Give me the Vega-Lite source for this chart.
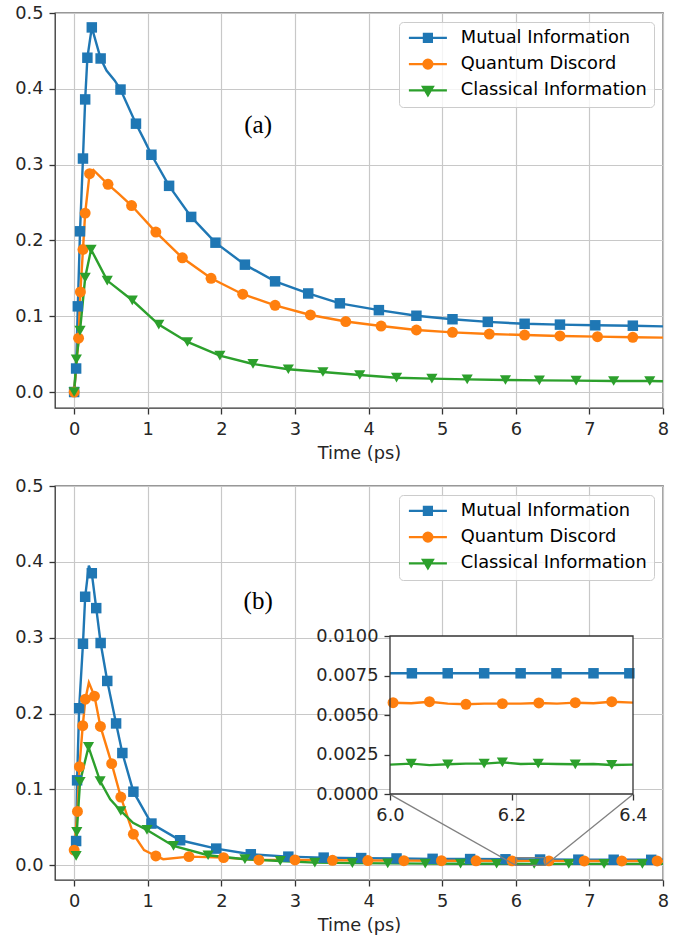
{
  "$schema": "https://vega.github.io/schema/vega-lite/v6.json",
  "background": "white",
  "padding": {"left": 14, "top": 3, "right": 5, "bottom": 5},
  "spacing": 12,
  "datasets": {
    "a": [
      {"s": "Mutual Information", "t": 0, "v": 0, "m": 1},
      {"s": "Mutual Information", "t": 0.027, "v": 0.031, "m": 1},
      {"s": "Mutual Information", "t": 0.05, "v": 0.113, "m": 1},
      {"s": "Mutual Information", "t": 0.08, "v": 0.212, "m": 1},
      {"s": "Mutual Information", "t": 0.12, "v": 0.308, "m": 1},
      {"s": "Mutual Information", "t": 0.15, "v": 0.386, "m": 1},
      {"s": "Mutual Information", "t": 0.18, "v": 0.441, "m": 1},
      {"s": "Mutual Information", "t": 0.24, "v": 0.481, "m": 1},
      {"s": "Mutual Information", "t": 0.36, "v": 0.44, "m": 1},
      {"s": "Mutual Information", "t": 0.44, "v": 0.424, "m": 0},
      {"s": "Mutual Information", "t": 0.55, "v": 0.411, "m": 0},
      {"s": "Mutual Information", "t": 0.63, "v": 0.399, "m": 1},
      {"s": "Mutual Information", "t": 0.84, "v": 0.354, "m": 1},
      {"s": "Mutual Information", "t": 0.95, "v": 0.333, "m": 0},
      {"s": "Mutual Information", "t": 1.05, "v": 0.313, "m": 1},
      {"s": "Mutual Information", "t": 1.29, "v": 0.272, "m": 1},
      {"s": "Mutual Information", "t": 1.59, "v": 0.231, "m": 1},
      {"s": "Mutual Information", "t": 1.92, "v": 0.197, "m": 1},
      {"s": "Mutual Information", "t": 2.32, "v": 0.168, "m": 1},
      {"s": "Mutual Information", "t": 2.73, "v": 0.146, "m": 1},
      {"s": "Mutual Information", "t": 3.18, "v": 0.13, "m": 1},
      {"s": "Mutual Information", "t": 3.61, "v": 0.117, "m": 1},
      {"s": "Mutual Information", "t": 4.14, "v": 0.108, "m": 1},
      {"s": "Mutual Information", "t": 4.65, "v": 0.1006, "m": 1},
      {"s": "Mutual Information", "t": 5.14, "v": 0.096, "m": 1},
      {"s": "Mutual Information", "t": 5.62, "v": 0.0925, "m": 1},
      {"s": "Mutual Information", "t": 6.12, "v": 0.09, "m": 1},
      {"s": "Mutual Information", "t": 6.6, "v": 0.0889, "m": 1},
      {"s": "Mutual Information", "t": 7.08, "v": 0.088, "m": 1},
      {"s": "Mutual Information", "t": 7.59, "v": 0.0875, "m": 1},
      {"s": "Mutual Information", "t": 8.0, "v": 0.0866, "m": 0},
      {"s": "Quantum Discord", "t": 0, "v": 0, "m": 1},
      {"s": "Quantum Discord", "t": 0.06, "v": 0.071, "m": 1},
      {"s": "Quantum Discord", "t": 0.085, "v": 0.132, "m": 1},
      {"s": "Quantum Discord", "t": 0.12, "v": 0.188, "m": 1},
      {"s": "Quantum Discord", "t": 0.15, "v": 0.236, "m": 1},
      {"s": "Quantum Discord", "t": 0.21, "v": 0.288, "m": 1},
      {"s": "Quantum Discord", "t": 0.26, "v": 0.293, "m": 0},
      {"s": "Quantum Discord", "t": 0.46, "v": 0.274, "m": 1},
      {"s": "Quantum Discord", "t": 0.6, "v": 0.262, "m": 0},
      {"s": "Quantum Discord", "t": 0.78, "v": 0.246, "m": 1},
      {"s": "Quantum Discord", "t": 1.11, "v": 0.211, "m": 1},
      {"s": "Quantum Discord", "t": 1.47, "v": 0.177, "m": 1},
      {"s": "Quantum Discord", "t": 1.86, "v": 0.15, "m": 1},
      {"s": "Quantum Discord", "t": 2.29, "v": 0.129, "m": 1},
      {"s": "Quantum Discord", "t": 2.73, "v": 0.1144, "m": 1},
      {"s": "Quantum Discord", "t": 3.21, "v": 0.1016, "m": 1},
      {"s": "Quantum Discord", "t": 3.69, "v": 0.093, "m": 1},
      {"s": "Quantum Discord", "t": 4.17, "v": 0.087, "m": 1},
      {"s": "Quantum Discord", "t": 4.65, "v": 0.0818, "m": 1},
      {"s": "Quantum Discord", "t": 5.14, "v": 0.0787, "m": 1},
      {"s": "Quantum Discord", "t": 5.64, "v": 0.0765, "m": 1},
      {"s": "Quantum Discord", "t": 6.12, "v": 0.0752, "m": 1},
      {"s": "Quantum Discord", "t": 6.6, "v": 0.0739, "m": 1},
      {"s": "Quantum Discord", "t": 7.11, "v": 0.073, "m": 1},
      {"s": "Quantum Discord", "t": 7.59, "v": 0.0722, "m": 1},
      {"s": "Quantum Discord", "t": 8.0, "v": 0.0717, "m": 0},
      {"s": "Classical Information", "t": 0, "v": 0, "m": 1},
      {"s": "Classical Information", "t": 0.03, "v": 0.043, "m": 1},
      {"s": "Classical Information", "t": 0.08, "v": 0.081, "m": 1},
      {"s": "Classical Information", "t": 0.15, "v": 0.151, "m": 1},
      {"s": "Classical Information", "t": 0.23, "v": 0.188, "m": 1},
      {"s": "Classical Information", "t": 0.3, "v": 0.175, "m": 0},
      {"s": "Classical Information", "t": 0.45, "v": 0.147, "m": 1},
      {"s": "Classical Information", "t": 0.79, "v": 0.121, "m": 1},
      {"s": "Classical Information", "t": 1.15, "v": 0.089, "m": 1},
      {"s": "Classical Information", "t": 1.54, "v": 0.066, "m": 1},
      {"s": "Classical Information", "t": 1.98, "v": 0.048, "m": 1},
      {"s": "Classical Information", "t": 2.43, "v": 0.037, "m": 1},
      {"s": "Classical Information", "t": 2.91, "v": 0.03, "m": 1},
      {"s": "Classical Information", "t": 3.38, "v": 0.0264, "m": 1},
      {"s": "Classical Information", "t": 3.88, "v": 0.0224, "m": 1},
      {"s": "Classical Information", "t": 4.38, "v": 0.0189, "m": 1},
      {"s": "Classical Information", "t": 4.86, "v": 0.0176, "m": 1},
      {"s": "Classical Information", "t": 5.34, "v": 0.0167, "m": 1},
      {"s": "Classical Information", "t": 5.86, "v": 0.0158, "m": 1},
      {"s": "Classical Information", "t": 6.32, "v": 0.0154, "m": 1},
      {"s": "Classical Information", "t": 6.82, "v": 0.015, "m": 1},
      {"s": "Classical Information", "t": 7.33, "v": 0.0145, "m": 1},
      {"s": "Classical Information", "t": 7.82, "v": 0.0145, "m": 1},
      {"s": "Classical Information", "t": 8.0, "v": 0.0141, "m": 0}
    ],
    "b": [
      {"s": "Mutual Information", "t": 0.027, "v": 0.032, "m": 1},
      {"s": "Mutual Information", "t": 0.04, "v": 0.112, "m": 1},
      {"s": "Mutual Information", "t": 0.068, "v": 0.207, "m": 1},
      {"s": "Mutual Information", "t": 0.12, "v": 0.292, "m": 1},
      {"s": "Mutual Information", "t": 0.15, "v": 0.354, "m": 1},
      {"s": "Mutual Information", "t": 0.2, "v": 0.395, "m": 0},
      {"s": "Mutual Information", "t": 0.24, "v": 0.385, "m": 1},
      {"s": "Mutual Information", "t": 0.3, "v": 0.339, "m": 1},
      {"s": "Mutual Information", "t": 0.36, "v": 0.293, "m": 1},
      {"s": "Mutual Information", "t": 0.45, "v": 0.243, "m": 1},
      {"s": "Mutual Information", "t": 0.57, "v": 0.187, "m": 1},
      {"s": "Mutual Information", "t": 0.655, "v": 0.148, "m": 1},
      {"s": "Mutual Information", "t": 0.805, "v": 0.097, "m": 1},
      {"s": "Mutual Information", "t": 1.05, "v": 0.055, "m": 1},
      {"s": "Mutual Information", "t": 1.44, "v": 0.033, "m": 1},
      {"s": "Mutual Information", "t": 1.93, "v": 0.022, "m": 1},
      {"s": "Mutual Information", "t": 2.4, "v": 0.0145, "m": 1},
      {"s": "Mutual Information", "t": 2.91, "v": 0.0114, "m": 1},
      {"s": "Mutual Information", "t": 3.39, "v": 0.0101, "m": 1},
      {"s": "Mutual Information", "t": 3.9, "v": 0.0095, "m": 1},
      {"s": "Mutual Information", "t": 4.38, "v": 0.009, "m": 1},
      {"s": "Mutual Information", "t": 4.87, "v": 0.0085, "m": 1},
      {"s": "Mutual Information", "t": 5.38, "v": 0.0082, "m": 1},
      {"s": "Mutual Information", "t": 5.86, "v": 0.0079, "m": 1},
      {"s": "Mutual Information", "t": 6.33, "v": 0.0076, "m": 1},
      {"s": "Mutual Information", "t": 6.85, "v": 0.0074, "m": 1},
      {"s": "Mutual Information", "t": 7.33, "v": 0.0073, "m": 1},
      {"s": "Mutual Information", "t": 7.84, "v": 0.0072, "m": 1},
      {"s": "Mutual Information", "t": 8.0, "v": 0.0072, "m": 0},
      {"s": "Quantum Discord", "t": 0, "v": 0.02, "m": 1},
      {"s": "Quantum Discord", "t": 0.045, "v": 0.071, "m": 1},
      {"s": "Quantum Discord", "t": 0.072, "v": 0.13, "m": 1},
      {"s": "Quantum Discord", "t": 0.117, "v": 0.184, "m": 1},
      {"s": "Quantum Discord", "t": 0.153, "v": 0.219, "m": 1},
      {"s": "Quantum Discord", "t": 0.2, "v": 0.241, "m": 0},
      {"s": "Quantum Discord", "t": 0.276, "v": 0.223, "m": 1},
      {"s": "Quantum Discord", "t": 0.357, "v": 0.183, "m": 1},
      {"s": "Quantum Discord", "t": 0.51, "v": 0.134, "m": 1},
      {"s": "Quantum Discord", "t": 0.634, "v": 0.09, "m": 1},
      {"s": "Quantum Discord", "t": 0.805, "v": 0.041, "m": 1},
      {"s": "Quantum Discord", "t": 0.95, "v": 0.02, "m": 0},
      {"s": "Quantum Discord", "t": 1.11, "v": 0.0123, "m": 1},
      {"s": "Quantum Discord", "t": 1.21, "v": 0.008, "m": 0},
      {"s": "Quantum Discord", "t": 1.56, "v": 0.0114, "m": 1},
      {"s": "Quantum Discord", "t": 2.03, "v": 0.0101, "m": 1},
      {"s": "Quantum Discord", "t": 2.51, "v": 0.007, "m": 1},
      {"s": "Quantum Discord", "t": 3.0, "v": 0.007, "m": 1},
      {"s": "Quantum Discord", "t": 3.51, "v": 0.0066, "m": 1},
      {"s": "Quantum Discord", "t": 3.99, "v": 0.0063, "m": 1},
      {"s": "Quantum Discord", "t": 4.48, "v": 0.0061, "m": 1},
      {"s": "Quantum Discord", "t": 4.99, "v": 0.006, "m": 1},
      {"s": "Quantum Discord", "t": 5.46, "v": 0.0059, "m": 1},
      {"s": "Quantum Discord", "t": 5.95, "v": 0.0058, "m": 1},
      {"s": "Quantum Discord", "t": 6.45, "v": 0.0058, "m": 1},
      {"s": "Quantum Discord", "t": 6.93, "v": 0.0057, "m": 1},
      {"s": "Quantum Discord", "t": 7.44, "v": 0.0057, "m": 1},
      {"s": "Quantum Discord", "t": 7.92, "v": 0.0057, "m": 1},
      {"s": "Quantum Discord", "t": 8.0, "v": 0.0057, "m": 0},
      {"s": "Classical Information", "t": 0.027, "v": 0.0123, "m": 1},
      {"s": "Classical Information", "t": 0.036, "v": 0.044, "m": 1},
      {"s": "Classical Information", "t": 0.08, "v": 0.11, "m": 1},
      {"s": "Classical Information", "t": 0.195, "v": 0.156, "m": 1},
      {"s": "Classical Information", "t": 0.353, "v": 0.111, "m": 1},
      {"s": "Classical Information", "t": 0.49, "v": 0.087, "m": 0},
      {"s": "Classical Information", "t": 0.634, "v": 0.0716, "m": 1},
      {"s": "Classical Information", "t": 0.8, "v": 0.056, "m": 0},
      {"s": "Classical Information", "t": 0.99, "v": 0.0466, "m": 1},
      {"s": "Classical Information", "t": 1.35, "v": 0.0255, "m": 1},
      {"s": "Classical Information", "t": 1.82, "v": 0.0132, "m": 1},
      {"s": "Classical Information", "t": 2.32, "v": 0.008, "m": 1},
      {"s": "Classical Information", "t": 2.8, "v": 0.0057, "m": 1},
      {"s": "Classical Information", "t": 3.27, "v": 0.0035, "m": 1},
      {"s": "Classical Information", "t": 3.78, "v": 0.0028, "m": 1},
      {"s": "Classical Information", "t": 4.26, "v": 0.0025, "m": 1},
      {"s": "Classical Information", "t": 4.77, "v": 0.0022, "m": 1},
      {"s": "Classical Information", "t": 5.25, "v": 0.0021, "m": 1},
      {"s": "Classical Information", "t": 5.74, "v": 0.002, "m": 1},
      {"s": "Classical Information", "t": 6.25, "v": 0.0019, "m": 1},
      {"s": "Classical Information", "t": 6.72, "v": 0.0019, "m": 1},
      {"s": "Classical Information", "t": 7.2, "v": 0.0018, "m": 1},
      {"s": "Classical Information", "t": 7.72, "v": 0.0018, "m": 1},
      {"s": "Classical Information", "t": 8.0, "v": 0.0018, "m": 0}
    ],
    "ins": [
      {"s": "Mutual Information", "t": 6.0, "v": 0.00764, "m": 0},
      {"s": "Mutual Information", "t": 6.036, "v": 0.00764, "m": 1},
      {"s": "Mutual Information", "t": 6.095, "v": 0.00764, "m": 1},
      {"s": "Mutual Information", "t": 6.155, "v": 0.00764, "m": 1},
      {"s": "Mutual Information", "t": 6.215, "v": 0.00764, "m": 1},
      {"s": "Mutual Information", "t": 6.274, "v": 0.00764, "m": 1},
      {"s": "Mutual Information", "t": 6.335, "v": 0.00764, "m": 1},
      {"s": "Mutual Information", "t": 6.394, "v": 0.00764, "m": 1},
      {"s": "Mutual Information", "t": 6.4, "v": 0.00764, "m": 0},
      {"s": "Quantum Discord", "t": 6.0, "v": 0.00576, "m": 0},
      {"s": "Quantum Discord", "t": 6.005, "v": 0.00578, "m": 1},
      {"s": "Quantum Discord", "t": 6.035, "v": 0.00574, "m": 0},
      {"s": "Quantum Discord", "t": 6.065, "v": 0.00584, "m": 1},
      {"s": "Quantum Discord", "t": 6.095, "v": 0.00572, "m": 0},
      {"s": "Quantum Discord", "t": 6.125, "v": 0.00568, "m": 1},
      {"s": "Quantum Discord", "t": 6.155, "v": 0.00572, "m": 0},
      {"s": "Quantum Discord", "t": 6.185, "v": 0.00572, "m": 1},
      {"s": "Quantum Discord", "t": 6.215, "v": 0.00572, "m": 0},
      {"s": "Quantum Discord", "t": 6.245, "v": 0.00576, "m": 1},
      {"s": "Quantum Discord", "t": 6.275, "v": 0.00572, "m": 0},
      {"s": "Quantum Discord", "t": 6.305, "v": 0.00578, "m": 1},
      {"s": "Quantum Discord", "t": 6.335, "v": 0.00574, "m": 0},
      {"s": "Quantum Discord", "t": 6.365, "v": 0.00584, "m": 1},
      {"s": "Quantum Discord", "t": 6.4, "v": 0.00578, "m": 0},
      {"s": "Classical Information", "t": 6.0, "v": 0.00186, "m": 0},
      {"s": "Classical Information", "t": 6.035, "v": 0.00192, "m": 1},
      {"s": "Classical Information", "t": 6.065, "v": 0.00183, "m": 0},
      {"s": "Classical Information", "t": 6.095, "v": 0.00188, "m": 1},
      {"s": "Classical Information", "t": 6.125, "v": 0.00192, "m": 0},
      {"s": "Classical Information", "t": 6.155, "v": 0.00192, "m": 1},
      {"s": "Classical Information", "t": 6.185, "v": 0.002, "m": 1},
      {"s": "Classical Information", "t": 6.215, "v": 0.0019, "m": 0},
      {"s": "Classical Information", "t": 6.244, "v": 0.00192, "m": 1},
      {"s": "Classical Information", "t": 6.275, "v": 0.0019, "m": 0},
      {"s": "Classical Information", "t": 6.305, "v": 0.00188, "m": 1},
      {"s": "Classical Information", "t": 6.335, "v": 0.0019, "m": 0},
      {"s": "Classical Information", "t": 6.365, "v": 0.00184, "m": 1},
      {"s": "Classical Information", "t": 6.4, "v": 0.00186, "m": 0}
    ]
  },
  "resolve": {"scale": {"color": "independent", "shape": "independent"}},
  "vconcat": [
    {
      "width": 608,
      "height": 395,
      "encoding": {
        "x": {"field": "t", "type": "quantitative", "scale": {"domain": [-0.26, 8], "nice": false, "zero": false},
              "axis": {"values": [0, 1, 2, 3, 4, 5, 6, 7, 8], "format": "d", "title": "Time (ps)", "grid": true}},
        "y": {"field": "v", "type": "quantitative", "scale": {"domain": [-0.0211, 0.5], "nice": false, "zero": false},
              "axis": {"values": [0, 0.1, 0.2, 0.3, 0.4, 0.5], "format": ".1f", "title": null, "grid": true}}
      },
      "layer": [
        {
          "data": {"name": "a"},
          "mark": {"type": "line", "strokeWidth": 2.4},
          "encoding": {
            "color": {"field": "s", "type": "nominal",
              "scale": {"domain": ["Mutual Information", "Quantum Discord", "Classical Information"], "range": ["#1f77b4", "#ff7f0e", "#2ca02c"]},
              "legend": {"title": null, "orient": "top-right", "offset": 9, "padding": 7, "symbolSize": 100, "symbolStrokeWidth": 2.2, "symbolOpacity": 1, "symbolOffset": 13, "labelOffset": 24, "rowPadding": 7.2, "labelFontSize": 17.8, "labelFont": "DejaVu Sans", "labelColor": "#000000", "labelLimit": 400, "fillColor": "rgba(255,255,255,0.8)", "strokeColor": "#cccccc", "cornerRadius": 4}}
          }
        },
        {
          "data": {"name": "a"},
          "transform": [{"filter": "datum.t == 8"}],
          "mark": {"type": "point", "filled": true, "opacity": 0, "size": 100, "strokeWidth": 2.2},
          "encoding": {
            "color": {"field": "s", "type": "nominal",
              "scale": {"domain": ["Mutual Information", "Quantum Discord", "Classical Information"], "range": ["#1f77b4", "#ff7f0e", "#2ca02c"]},
              "legend": {"title": null, "orient": "top-right", "offset": 9, "padding": 7, "symbolSize": 100, "symbolStrokeWidth": 2.2, "symbolOpacity": 1, "symbolOffset": 13, "labelOffset": 24, "rowPadding": 7.2, "labelFontSize": 17.8, "labelFont": "DejaVu Sans", "labelColor": "#000000", "labelLimit": 400, "fillColor": "rgba(255,255,255,0.8)", "strokeColor": "#cccccc", "cornerRadius": 4}},
            "shape": {"field": "s", "type": "nominal",
              "scale": {"domain": ["Mutual Information", "Quantum Discord", "Classical Information"], "range": ["M-3.8,0H3.8M-0.8,-0.8H0.8V0.8H-0.8Z", "M-3.8,0H3.8M0.9,0C0.9,0.497 0.497,0.9 0,0.9C-0.497,0.9 -0.9,0.497 -0.9,0C-0.9,-0.497 -0.497,-0.9 0,-0.9C0.497,-0.9 0.9,-0.497 0.9,0Z", "M-3.8,0H3.8M-1,-0.7H1L0,1Z"]},
              "legend": null}
          }
        },
        {
          "data": {"name": "a"},
          "transform": [{"filter": "datum.m == 1 && datum.s == 'Mutual Information'"}],
          "mark": {"type": "point", "filled": true, "opacity": 1, "size": 110, "shape": "square", "color": "#1f77b4"},
          "encoding": {}
        },
        {
          "data": {"name": "a"},
          "transform": [{"filter": "datum.m == 1 && datum.s == 'Quantum Discord'"}],
          "mark": {"type": "point", "filled": true, "opacity": 1, "size": 120, "shape": "circle", "color": "#ff7f0e"},
          "encoding": {}
        },
        {
          "data": {"name": "a"},
          "transform": [{"filter": "datum.m == 1 && datum.s == 'Classical Information'"}],
          "mark": {"type": "point", "filled": true, "opacity": 1, "size": 125, "shape": "triangle-down", "color": "#2ca02c"},
          "encoding": {}
        },
        {
          "data": {"values": [{"t": 2.5, "v": 0.352, "lab": "(a)"}]},
          "mark": {"type": "text", "font": "Liberation Serif", "fontSize": 25, "color": "#000000", "align": "center", "baseline": "middle"},
          "encoding": {"text": {"field": "lab"}}
        }
      ]
    },
    {
      "width": 608,
      "height": 394,
      "resolve": {"scale": {"x": "independent", "y": "independent"}, "axis": {"x": "independent", "y": "independent"}},
      "layer": [
        {
          "encoding": {
            "x": {"field": "t", "type": "quantitative", "scale": {"domain": [-0.26, 8], "nice": false, "zero": false},
                  "axis": {"values": [0, 1, 2, 3, 4, 5, 6, 7, 8], "format": "d", "title": "Time (ps)", "grid": true, "orient": "bottom"}},
            "y": {"field": "v", "type": "quantitative", "scale": {"domain": [-0.0194, 0.5], "nice": false, "zero": false},
                  "axis": {"values": [0, 0.1, 0.2, 0.3, 0.4, 0.5], "format": ".1f", "title": null, "grid": true, "orient": "left"}}
          },
          "layer": [
            {
              "data": {"name": "b"},
              "mark": {"type": "line", "strokeWidth": 2.4},
              "encoding": {
                "color": {"field": "s", "type": "nominal",
                  "scale": {"domain": ["Mutual Information", "Quantum Discord", "Classical Information"], "range": ["#1f77b4", "#ff7f0e", "#2ca02c"]},
                  "legend": {"title": null, "orient": "top-right", "offset": 9, "padding": 7, "symbolSize": 100, "symbolStrokeWidth": 2.2, "symbolOpacity": 1, "symbolOffset": 13, "labelOffset": 24, "rowPadding": 7.2, "labelFontSize": 17.8, "labelFont": "DejaVu Sans", "labelColor": "#000000", "labelLimit": 400, "fillColor": "rgba(255,255,255,0.8)", "strokeColor": "#cccccc", "cornerRadius": 4}}
              }
            },
            {
              "data": {"name": "b"},
              "transform": [{"filter": "datum.t == 8"}],
              "mark": {"type": "point", "filled": true, "opacity": 0, "size": 100, "strokeWidth": 2.2},
              "encoding": {
                "color": {"field": "s", "type": "nominal",
                  "scale": {"domain": ["Mutual Information", "Quantum Discord", "Classical Information"], "range": ["#1f77b4", "#ff7f0e", "#2ca02c"]},
                  "legend": {"title": null, "orient": "top-right", "offset": 9, "padding": 7, "symbolSize": 100, "symbolStrokeWidth": 2.2, "symbolOpacity": 1, "symbolOffset": 13, "labelOffset": 24, "rowPadding": 7.2, "labelFontSize": 17.8, "labelFont": "DejaVu Sans", "labelColor": "#000000", "labelLimit": 400, "fillColor": "rgba(255,255,255,0.8)", "strokeColor": "#cccccc", "cornerRadius": 4}},
                "shape": {"field": "s", "type": "nominal",
                  "scale": {"domain": ["Mutual Information", "Quantum Discord", "Classical Information"], "range": ["M-3.8,0H3.8M-0.8,-0.8H0.8V0.8H-0.8Z", "M-3.8,0H3.8M0.9,0C0.9,0.497 0.497,0.9 0,0.9C-0.497,0.9 -0.9,0.497 -0.9,0C-0.9,-0.497 -0.497,-0.9 0,-0.9C0.497,-0.9 0.9,-0.497 0.9,0Z", "M-3.8,0H3.8M-1,-0.7H1L0,1Z"]},
                  "legend": null}
              }
            },
            {
              "data": {"name": "b"},
              "transform": [{"filter": "datum.m == 1 && datum.s == 'Mutual Information'"}],
              "mark": {"type": "point", "filled": true, "opacity": 1, "size": 110, "shape": "square", "color": "#1f77b4"},
              "encoding": {}
            },
            {
              "data": {"name": "b"},
              "transform": [{"filter": "datum.m == 1 && datum.s == 'Quantum Discord'"}],
              "mark": {"type": "point", "filled": true, "opacity": 1, "size": 120, "shape": "circle", "color": "#ff7f0e"},
              "encoding": {}
            },
            {
              "data": {"name": "b"},
              "transform": [{"filter": "datum.m == 1 && datum.s == 'Classical Information'"}],
              "mark": {"type": "point", "filled": true, "opacity": 1, "size": 125, "shape": "triangle-down", "color": "#2ca02c"},
              "encoding": {}
            },
            {
              "data": {"values": [{"t": 2.5, "v": 0.348, "lab": "(b)"}]},
              "mark": {"type": "text", "font": "Liberation Serif", "fontSize": 25, "color": "#000000", "align": "center", "baseline": "middle"},
              "encoding": {"text": {"field": "lab"}}
            },
            {
              "data": {"values": [{"t": 6.0, "v": 0, "t2": 6.4, "v2": 0.01}]},
              "mark": {"type": "rect", "fillOpacity": 0, "stroke": "#808080", "strokeWidth": 1.3},
              "encoding": {"x2": {"field": "t2"}, "y2": {"field": "v2"}}
            },
            {
              "data": {"values": [{"t": 4.292, "v": 0.0935, "t2": 6.0, "v2": 0}, {"t": 7.594, "v": 0.0935, "t2": 6.4, "v2": 0}]},
              "mark": {"type": "rule", "stroke": "#808080", "strokeWidth": 1.3},
              "encoding": {"x2": {"field": "t2"}, "y2": {"field": "v2"}}
            }
          ]
        },
        {
          "encoding": {
            "x": {"field": "t", "type": "quantitative", "scale": {"domain": [6.0, 6.4], "range": [335, 578], "nice": false, "zero": false},
                  "axis": {"values": [6.0, 6.2, 6.4], "format": ".1f", "title": null, "grid": false, "orient": "bottom", "offset": -86}},
            "y": {"field": "v", "type": "quantitative", "scale": {"domain": [0, 0.01], "range": [308, 150], "nice": false, "zero": false},
                  "axis": {"values": [0, 0.0025, 0.005, 0.0075, 0.01], "format": ".4f", "title": null, "grid": false, "orient": "left", "offset": -335}}
          },
          "layer": [
            {
              "data": {"values": [{"t": 6.0, "v": 0, "t2": 6.4, "v2": 0.01}]},
              "mark": {"type": "rect", "fill": "white", "strokeWidth": 0},
              "encoding": {"x2": {"field": "t2"}, "y2": {"field": "v2"}}
            },
            {
              "data": {"name": "ins"},
              "mark": {"type": "line", "strokeWidth": 2.4},
              "encoding": {
                "color": {"field": "s", "type": "nominal",
                  "scale": {"domain": ["Mutual Information", "Quantum Discord", "Classical Information"], "range": ["#1f77b4", "#ff7f0e", "#2ca02c"]},
                  "legend": null}
              }
            },
            {
              "data": {"name": "ins"},
              "transform": [{"filter": "datum.m == 1 && datum.s == 'Mutual Information'"}],
              "mark": {"type": "point", "filled": true, "opacity": 1, "size": 110, "shape": "square", "color": "#1f77b4"},
              "encoding": {}
            },
            {
              "data": {"name": "ins"},
              "transform": [{"filter": "datum.m == 1 && datum.s == 'Quantum Discord'"}],
              "mark": {"type": "point", "filled": true, "opacity": 1, "size": 120, "shape": "circle", "color": "#ff7f0e"},
              "encoding": {}
            },
            {
              "data": {"name": "ins"},
              "transform": [{"filter": "datum.m == 1 && datum.s == 'Classical Information'"}],
              "mark": {"type": "point", "filled": true, "opacity": 1, "size": 125, "shape": "triangle-down", "color": "#2ca02c"},
              "encoding": {}
            },
            {
              "data": {"values": [{"t": 6.0, "v": 0, "t2": 6.4, "v2": 0.01}]},
              "mark": {"type": "rect", "fillOpacity": 0, "stroke": "#333333", "strokeWidth": 1.3},
              "encoding": {"x2": {"field": "t2"}, "y2": {"field": "v2"}}
            }
          ]
        }
      ]
    }
  ],
  "config": {
    "font": "DejaVu Sans",
    "view": {"stroke": "#333333", "strokeWidth": 1.3},
    "axis": {
      "labelFont": "DejaVu Sans", "labelFontSize": 17.8, "labelColor": "#262626",
      "tickColor": "#333333", "tickSize": 6, "tickWidth": 1.3, "domain": false,
      "gridColor": "#c8c8c8", "gridWidth": 1.2,
      "titleFont": "DejaVu Sans", "titleFontSize": 17.8, "titleFontWeight": "normal", "titleColor": "#262626",
      "labelPadding": 6, "labelFlush": false, "labelOverlap": false, "titlePadding": 7
    }
  }
}
